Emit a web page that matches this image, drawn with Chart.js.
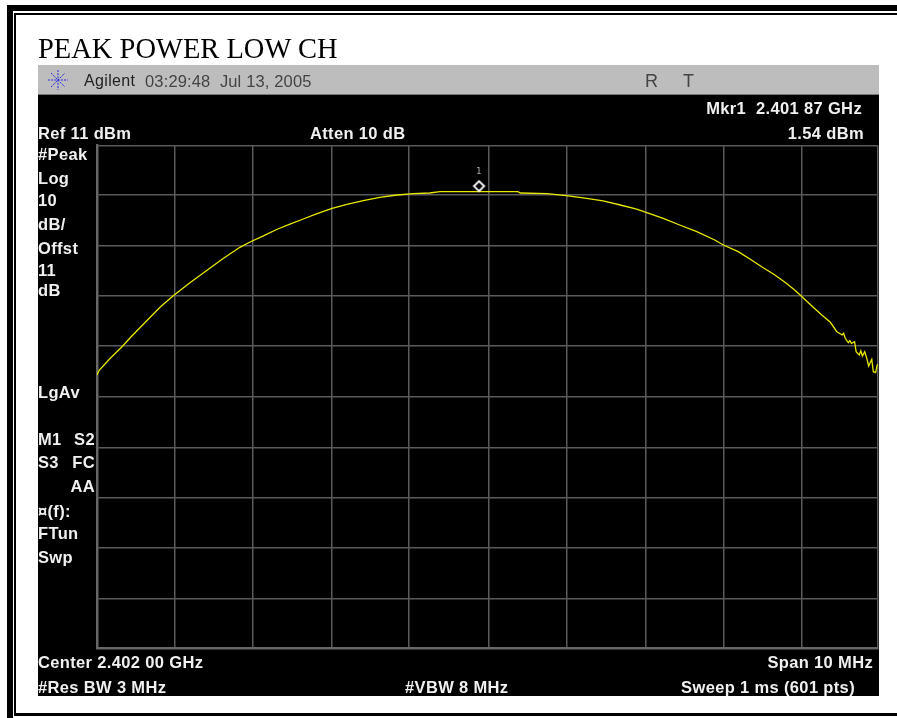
<!DOCTYPE html>
<html><head><meta charset="utf-8">
<script src="https://cdn.jsdelivr.net/npm/chart.js@4"></script>
<style>
html,body{margin:0;padding:0;background:#fff;overflow:hidden}
#page{position:relative;width:897px;height:718px;overflow:hidden;background:#fff}
.b{position:absolute;background:#000}
#panel{position:absolute;left:38px;top:95px;width:841px;height:601px;background:#000}
#bar{position:absolute;left:38px;top:65px;width:841px;height:30px;background:#bdbdbd;border-bottom:1px solid #777;box-sizing:border-box}
canvas{position:absolute;left:0;top:0}
.t{position:absolute;white-space:pre;line-height:16px;font-family:"Liberation Sans",sans-serif}
.w{color:#f0f0f0;font-weight:700;font-size:16.5px;letter-spacing:.35px}
</style></head>
<body><div id="page">
<div class="b" style="left:7px;top:5px;width:890px;height:6px"></div>
<div class="b" style="left:14px;top:13px;width:883px;height:2px"></div>
<div class="b" style="left:7px;top:5px;width:6px;height:713px"></div>
<div class="b" style="left:14px;top:13px;width:2px;height:703px"></div>
<div class="b" style="left:14px;top:713px;width:883px;height:3px"></div>
<div id="panel"></div><div id="bar"></div>
<svg style="position:absolute;left:47px;top:69px" width="22" height="22" viewBox="-11 -11 22 22" stroke="#2a2ae0" stroke-width="1" stroke-dasharray="2 1.2">
<line x1="-10" y1="0" x2="10" y2="0"/><line x1="0" y1="-10" x2="0" y2="10"/><line x1="-7" y1="-7" x2="7" y2="7"/><line x1="-7" y1="7" x2="7" y2="-7"/></svg>
<canvas id="c" width="897" height="718"></canvas>
<div id="labels"></div>
</div>
<script>
const traceFreqGHz=[2.39700,2.39703,2.39717,2.39732,2.39744,2.39759,2.39781,2.39798,2.39819,2.39840,2.39862,2.39883,2.39896,2.39913,2.39930,2.39947,2.39964,2.39981,2.40001,2.40020,2.40041,2.40062,2.40084,2.40105,2.40126,2.40139,2.40203,2.40239,2.40242,2.40276,2.40301,2.40327,2.40348,2.40370,2.40391,2.40403,2.40425,2.40446,2.40468,2.40491,2.40502,2.40521,2.40538,2.40551,2.40568,2.40583,2.40594,2.40602,2.40615,2.40628,2.40639,2.40647,2.40654,2.40656,2.40658,2.40662,2.40664,2.40666,2.40670,2.40672,2.40676,2.40678,2.40680,2.40683,2.40686,2.40688,2.40692,2.40694,2.40697,2.40699,2.40700];
const traceDbm=[-34.67,-33.68,-31.35,-29.04,-27.00,-24.62,-21.14,-18.85,-16.32,-13.92,-11.45,-9.26,-8.20,-7.00,-5.72,-4.66,-3.63,-2.59,-1.50,-0.70,0.01,0.69,1.15,1.41,1.55,1.81,1.81,1.81,1.55,1.41,1.01,0.49,-0.04,-0.84,-1.64,-2.29,-3.49,-4.82,-6.15,-7.81,-8.80,-10.13,-11.79,-13.12,-14.77,-16.46,-17.86,-18.99,-20.88,-22.73,-24.18,-26.01,-26.71,-26.37,-27.37,-28.24,-27.85,-28.36,-28.04,-30.03,-30.69,-29.84,-30.89,-30.03,-31.55,-32.88,-31.55,-34.01,-34.21,-32.68,-32.54];
const markerFreqGHz=[2.40187];
const markerDbm=[1.54];
const xRange=[2.397,2.407];
const yRange=[-89,11];
const xGridGHz=[2.39700,2.39800,2.39899,2.40001,2.40099,2.40202,2.40302,2.40403,2.40502,2.40602,2.40700];
const yGridDbm=[11,1.29,-8.92,-18.89,-28.86,-38.99,-49.14,-59.09,-69.10,-79.25,-89];
const titleText="PEAK POWER LOW CH";
const leftLabels=[["#Peak",154],["Log",178],["10",200],["dB/",224],["Offst",248],["11",270],["dB",290],["LgAv",392],["M1",439],["S3",462],["\u00a4(f):",511],["FTun",533],["Swp",557]];
const rightSoftLabels=[["S2",439],["FC",462],["AA",486]];
const leftX=38, softRight=95;
const whiteLabels=[["Ref 11 dBm",38,133,"l"],["Atten 10 dB",310,133,"l"],["Mkr1  2.401 87 GHz",862,108,"r"],["1.54 dBm",864,133,"r"],["Center 2.402 00 GHz",38,662,"l"],["Span 10 MHz",873,662,"r"],["#Res BW 3 MHz",38,687,"l"],["#VBW 8 MHz",405,687,"l"],["Sweep 1 ms (601 pts)",855,687,"r"]];

const holder=document.getElementById('labels');
function add(text,x,y,al,cls,style){
  const d=document.createElement('div');d.className='t '+cls;d.textContent=text;
  d.style.top=(y-8)+'px';
  if(al==='r')d.style.right=(897-x)+'px';else d.style.left=x+'px';
  if(style)Object.assign(d.style,style);
  holder.appendChild(d);
}
add(titleText,38,49,'l','',{fontFamily:'"Liberation Serif",serif',fontSize:'28.5px',color:'#000',lineHeight:'16px'});
leftLabels.forEach(l=>add(l[0],leftX,l[1],'l','w'));
rightSoftLabels.forEach(l=>add(l[0],softRight,l[1],'r','w'));
whiteLabels.forEach(l=>add(l[0],l[1],l[2],l[3],'w'));
add('Agilent',84,81,'l','',{fontSize:'16px',color:'#222',letterSpacing:'.35px'});
add('03:29:48  Jul 13, 2005',145,81,'l','',{fontSize:'16.5px',color:'#444',letterSpacing:'.15px'});
add('R',645,81,'l','',{fontSize:'18px',color:'#444'});
add('T',683,81,'l','',{fontSize:'18px',color:'#444'});
add('1',476,171,'l','',{fontSize:'9px',color:'#aaa',fontFamily:'"DejaVu Sans Mono",monospace',lineHeight:'16px'});

// diamond sits just above the trace position of the marker
const dia=document.createElement('canvas');dia.width=30;dia.height=30;
const g=dia.getContext('2d');g.strokeStyle='#f4f4f4';g.lineWidth=2;
g.beginPath();g.moveTo(16.7,3.1);g.lineTo(21.7,8.1);g.lineTo(16.7,13.1);g.lineTo(11.7,8.1);g.closePath();g.stroke();

new Chart(document.getElementById('c'),{
  type:'line',
  data:{datasets:[
    {label:'Marker',data:markerFreqGHz.map((x,i)=>({x,y:markerDbm[i]})),showLine:false,pointStyle:dia,pointRadius:15,order:0},
    {label:'Trace',data:traceFreqGHz.map((x,i)=>({x,y:traceDbm[i]})),borderColor:'#e8e800',borderWidth:1.3,pointRadius:0,tension:0,fill:false,order:1}
  ]},
  options:{
    responsive:false,animation:false,events:[],
    layout:{padding:{left:97,right:19,top:145.5,bottom:70}},
    plugins:{legend:{display:false},tooltip:{enabled:false},title:{display:false}},
    scales:{
      x:{type:'linear',min:xRange[0],max:xRange[1],
        afterBuildTicks:s=>{s.ticks=xGridGHz.map(value=>({value}))},
        ticks:{display:false},
        grid:{color:'#5a5a5a',lineWidth:1.5,drawTicks:false},
        border:{color:'#666',width:2.5}},
      y:{type:'linear',min:yRange[0],max:yRange[1],
        afterBuildTicks:s=>{s.ticks=yGridDbm.map(value=>({value}))},
        ticks:{display:false},
        grid:{color:'#5a5a5a',lineWidth:1.5,drawTicks:false},
        border:{color:'#666',width:2.5}}
    }
  }
});
</script></body></html>
